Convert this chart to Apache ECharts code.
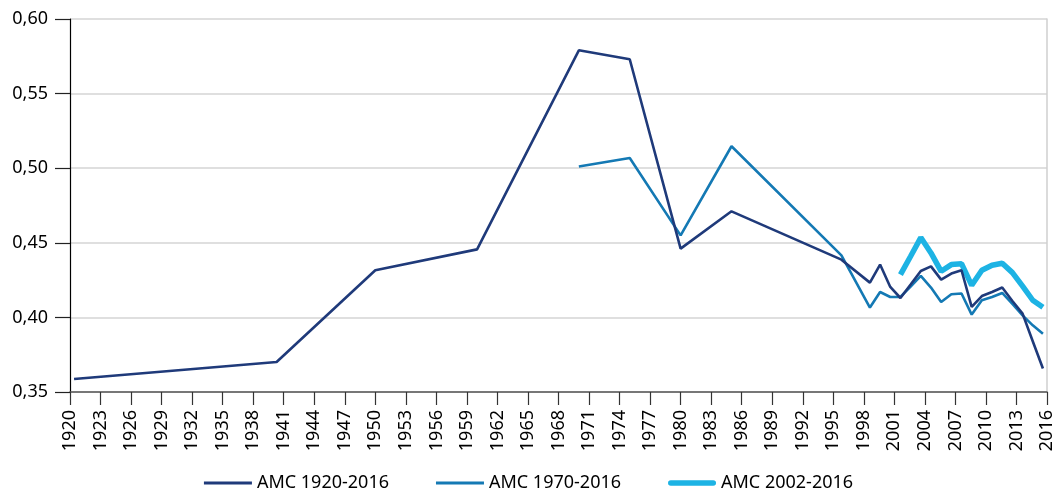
<!DOCTYPE html>
<html>
<head>
<meta charset="utf-8">
<script src="https://cdn.jsdelivr.net/npm/echarts@6/dist/echarts.min.js"></script>
<style>
  html, body { margin: 0; padding: 0; background: #fff; }
  #chart-container { width: 1057px; height: 493px; }
</style>
</head>
<body>
<div id="chart-container"></div>
<script>
// x positions (years) and values
var years1920 = [1920.4, 1940.3, 1950, 1960, 1970, 1975, 1980, 1985, 1995.8,
  1998.6, 1999.6, 2000.6, 2001.6, 2002.6, 2003.6, 2004.6, 2005.6, 2006.6,
  2007.6, 2008.6, 2009.6, 2010.6, 2011.6, 2012.6, 2013.6, 2014.6, 2015.6];
var amc1920 = [0.3587, 0.3701, 0.4316, 0.4456, 0.579, 0.573, 0.4461, 0.4711, 0.4387,
  0.4233, 0.4354, 0.4204, 0.413, 0.422, 0.4311, 0.4342, 0.4253, 0.4294,
  0.4316, 0.407, 0.4143, 0.417, 0.42, 0.411, 0.4025, 0.384, 0.3658];

var years1970 = [1970, 1975, 1980, 1985, 1995.8,
  1998.6, 1999.6, 2000.6, 2001.6, 2002.6, 2003.6, 2004.6, 2005.6, 2006.6,
  2007.6, 2008.6, 2009.6, 2010.6, 2011.6, 2012.6, 2013.6, 2014.6, 2015.6];
var amc1970 = [0.5011, 0.5068, 0.455, 0.5147, 0.4416,
  0.4066, 0.417, 0.4137, 0.4137, 0.4207, 0.4278, 0.42, 0.4103, 0.4155,
  0.416, 0.4019, 0.4115, 0.4137, 0.4164, 0.409, 0.4014, 0.3947, 0.3891];

var years2002 = [2001.6, 2002.6, 2003.6, 2004.6, 2005.6, 2006.6, 2007.6,
  2008.6, 2009.6, 2010.6, 2011.6, 2012.6, 2013.6, 2014.6, 2015.6];
var amc2002 = [0.4287, 0.441, 0.4535, 0.4432, 0.4309, 0.4354, 0.436,
  0.4215, 0.4316, 0.435, 0.4363, 0.43, 0.4209, 0.4115, 0.4068];

var seriesNames = ['AMC 1920-2016', 'AMC 1970-2016', 'AMC 2002-2016'];
var yTicks = [0.35, 0.40, 0.45, 0.50, 0.55, 0.60];

function pairs(xs, ys) {
  return xs.map(function (x, i) { return [x, ys[i]]; });
}

var font = '"Noto Sans", sans-serif';

var myChart = echarts.init(document.getElementById('chart-container'));

var option = {
  animation: false,
  grid: { left: 70, right: 10, top: 19, bottom: 101, containLabel: false },
  legend: {
    data: [
      { name: seriesNames[0], icon: 'path://M0 0h48v2.8h-48z' },
      { name: seriesNames[1], icon: 'path://M0 0h48v2.8h-48z' },
      { name: seriesNames[2], icon: 'path://M2.8 0h42.4a2.8 2.8 0 0 1 0 5.6h-42.4a2.8 2.8 0 0 1 0-5.6z' }
    ],
    top: 469,
    left: 'center',
    itemWidth: 48,
    itemHeight: 14,
    itemGap: 47,
    textStyle: { fontFamily: font, fontSize: 18, color: '#000' }
  },
  xAxis: {
    type: 'value',
    min: 1920,
    max: 2016,
    interval: 3,
    axisLine: { lineStyle: { color: '#555', width: 1.5 } },
    axisTick: { length: 13, lineStyle: { color: '#333', width: 1.2 } },
    axisLabel: {
      rotate: 90,
      margin: 18,
      fontFamily: font,
      fontSize: 18,
      color: '#000',
      formatter: function (v) { return String(v); }
    },
    splitLine: { show: false }
  },
  yAxis: [{
    type: 'value',
    min: yTicks[0],
    max: yTicks[yTicks.length - 1],
    interval: 0.05,
    axisLine: { show: true, lineStyle: { color: '#000', width: 1.2 } },
    axisTick: { show: true, length: 15, lineStyle: { color: '#222', width: 1.2 } },
    axisLabel: {
      margin: 22,
      fontFamily: font,
      fontSize: 18,
      color: '#000',
      formatter: function (v) { return v.toFixed(2).replace('.', ','); }
    },
    splitLine: { lineStyle: { color: '#d4d4d4', width: 1.5 } }
  }, {
    // light frame line on the right edge
    type: 'value',
    position: 'right',
    min: yTicks[0],
    max: yTicks[yTicks.length - 1],
    interval: 0.05,
    axisLine: { show: true, lineStyle: { color: '#cfcfcf', width: 1.5 } },
    axisTick: { show: false },
    axisLabel: { show: false },
    splitLine: { show: false }
  }],
  series: [{
    name: seriesNames[0],
    type: 'line',
    symbol: 'none',
    data: pairs(years1920, amc1920),
    lineStyle: { color: '#1f3a7a', width: 2.6 },
    itemStyle: { color: '#1f3a7a' },
    z: 4
  }, {
    name: seriesNames[1],
    type: 'line',
    symbol: 'none',
    data: pairs(years1970, amc1970),
    lineStyle: { color: '#1479b4', width: 2.6 },
    itemStyle: { color: '#1479b4' },
    z: 3
  }, {
    name: seriesNames[2],
    type: 'line',
    symbol: 'none',
    data: pairs(years2002, amc2002),
    lineStyle: { color: '#1db3e4', width: 5.5 },
    itemStyle: { color: '#1db3e4' },
    z: 2
  }]
};

myChart.setOption(option);
</script>
</body>
</html>
